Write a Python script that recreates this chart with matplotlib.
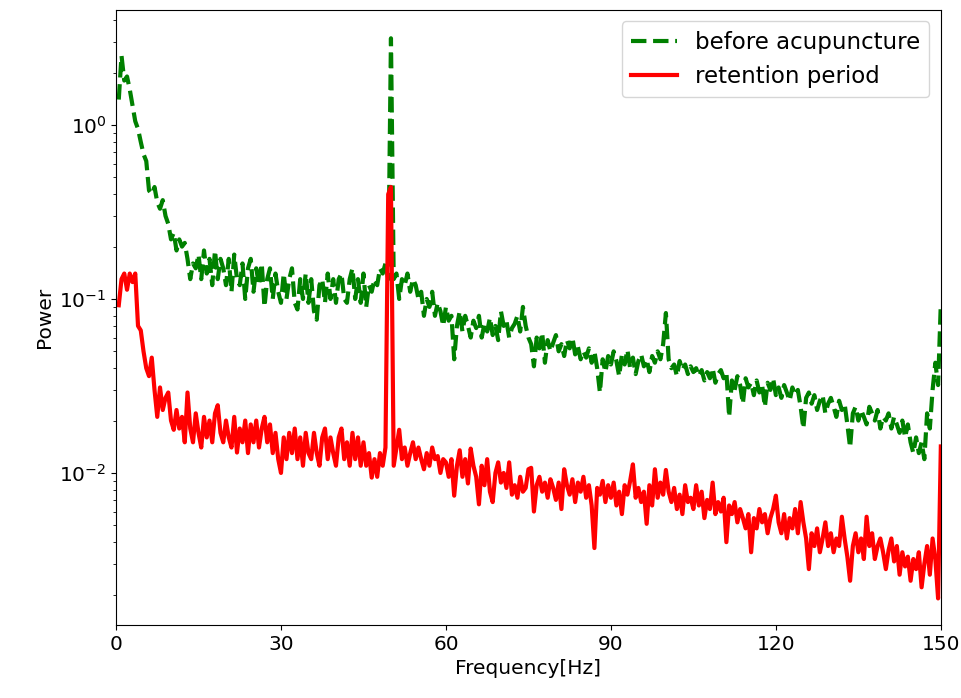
import numpy as np
import matplotlib
matplotlib.use("Agg")
import matplotlib.pyplot as plt

# frequency grid, 0.5 Hz steps
freq = np.arange(1, 301) * 0.5

# before acupuncture
power_before = [
    1.40, 2.50, 1.80, 1.90, 1.60, 1.30, 1.05, 0.95, 0.80, 0.68,
    0.62, 0.42, 0.40, 0.44, 0.36, 0.33, 0.37, 0.30, 0.27, 0.22,
    0.24, 0.19, 0.22, 0.20, 0.21, 0.17, 0.13, 0.16, 0.15, 0.18,
    0.13, 0.19, 0.14, 0.17, 0.12, 0.19, 0.13, 0.17, 0.15, 0.12,
    0.17, 0.11, 0.18, 0.13, 0.12, 0.16, 0.10, 0.15, 0.17, 0.11,
    0.15, 0.12, 0.16, 0.09, 0.13, 0.15, 0.10, 0.14, 0.11, 0.095,
    0.14, 0.10, 0.13, 0.15, 0.095, 0.087, 0.13, 0.10, 0.14, 0.095,
    0.13, 0.085, 0.076, 0.12, 0.13, 0.095, 0.14, 0.10, 0.13, 0.095,
    0.13, 0.14, 0.10, 0.095, 0.13, 0.15, 0.10, 0.13, 0.095, 0.14,
    0.09, 0.12, 0.11, 0.13, 0.12, 0.15, 0.14, 0.16, 0.13, 3.15,
    0.13, 0.14, 0.10, 0.13, 0.12, 0.14, 0.11, 0.13, 0.12, 0.10,
    0.11, 0.08, 0.10, 0.09, 0.11, 0.08, 0.095, 0.085, 0.07, 0.09,
    0.075, 0.08, 0.045, 0.07, 0.085, 0.065, 0.08, 0.07, 0.06, 0.075,
    0.068, 0.08, 0.06, 0.072, 0.065, 0.078, 0.062, 0.07, 0.058, 0.085,
    0.07, 0.075, 0.06, 0.068, 0.072, 0.08, 0.065, 0.09, 0.07, 0.06,
    0.055, 0.041, 0.06, 0.052, 0.064, 0.043, 0.058, 0.05, 0.056, 0.062,
    0.05, 0.055, 0.047, 0.058, 0.052, 0.06, 0.048, 0.053, 0.045, 0.05,
    0.046, 0.052, 0.043, 0.05, 0.04, 0.029, 0.045, 0.038, 0.047, 0.042,
    0.05, 0.044, 0.036, 0.048, 0.042, 0.051, 0.04, 0.046, 0.037, 0.044,
    0.048, 0.041, 0.045, 0.038, 0.047, 0.043, 0.05, 0.045, 0.055, 0.083,
    0.045, 0.04, 0.042, 0.036, 0.044, 0.039, 0.042, 0.037, 0.041, 0.038,
    0.04, 0.036, 0.039, 0.034, 0.038, 0.035, 0.04, 0.033, 0.037, 0.039,
    0.035, 0.038, 0.021, 0.034, 0.03, 0.036, 0.032, 0.025, 0.035, 0.031,
    0.033, 0.028, 0.034, 0.029, 0.032, 0.024, 0.033, 0.03, 0.035, 0.028,
    0.031, 0.027, 0.032, 0.029, 0.026, 0.031, 0.028, 0.03, 0.024, 0.018,
    0.027, 0.029, 0.025, 0.028, 0.023, 0.026, 0.028, 0.022, 0.025, 0.027,
    0.024, 0.021, 0.026, 0.023, 0.025, 0.019, 0.014, 0.022, 0.024, 0.02,
    0.023, 0.021, 0.019, 0.024, 0.022, 0.02, 0.023, 0.018, 0.021, 0.02,
    0.022, 0.018, 0.021, 0.019, 0.017, 0.02, 0.016, 0.019, 0.015, 0.013,
    0.016, 0.013, 0.015, 0.012, 0.022, 0.018, 0.03, 0.043, 0.032, 0.095,
]

# retention period
power_retention = [
    0.092, 0.13, 0.14, 0.113, 0.14, 0.125, 0.14, 0.07, 0.066, 0.05,
    0.04, 0.036, 0.046, 0.03, 0.021, 0.031, 0.023, 0.027, 0.029, 0.02,
    0.0177, 0.023, 0.018, 0.021, 0.015, 0.029, 0.018, 0.015, 0.022, 0.017,
    0.014, 0.021, 0.016, 0.02, 0.015, 0.022, 0.0245, 0.017, 0.015, 0.02,
    0.016, 0.014, 0.021, 0.0131, 0.018, 0.015, 0.02, 0.013, 0.019, 0.015,
    0.02, 0.014, 0.018, 0.021, 0.015, 0.019, 0.013, 0.017, 0.012, 0.0100,
    0.016, 0.012, 0.017, 0.013, 0.018, 0.012, 0.016, 0.011, 0.017, 0.013,
    0.012, 0.017, 0.013, 0.011, 0.016, 0.018, 0.012, 0.016, 0.013, 0.011,
    0.016, 0.018, 0.012, 0.015, 0.011, 0.017, 0.012, 0.016, 0.011, 0.015,
    0.011, 0.013, 0.0094, 0.012, 0.0095, 0.013, 0.011, 0.014, 0.40, 0.44,
    0.011, 0.014, 0.0177, 0.012, 0.014, 0.011, 0.013, 0.015, 0.012, 0.014,
    0.012, 0.0105, 0.013, 0.011, 0.014, 0.012, 0.0125, 0.010, 0.012, 0.0115,
    0.0095, 0.012, 0.0074, 0.011, 0.0135, 0.0095, 0.012, 0.0087, 0.0138, 0.011,
    0.0095, 0.0066, 0.011, 0.0085, 0.012, 0.0078, 0.0068, 0.010, 0.0115, 0.0088,
    0.010, 0.0082, 0.0115, 0.0075, 0.0085, 0.0072, 0.0095, 0.0078, 0.0082, 0.0105,
    0.0107, 0.006, 0.0085, 0.0095, 0.0078, 0.0088, 0.0072, 0.0092, 0.0082, 0.007,
    0.0088, 0.0062, 0.0105, 0.0085, 0.0075, 0.0092, 0.0068, 0.0088, 0.0078, 0.0095,
    0.0072, 0.0085, 0.0065, 0.0037, 0.0082, 0.0075, 0.009, 0.0068, 0.0085, 0.0072,
    0.0088, 0.0065, 0.0078, 0.0058, 0.0085, 0.0075, 0.009, 0.0112, 0.0072, 0.0082,
    0.0068, 0.0078, 0.0051, 0.0085, 0.0065, 0.0105, 0.0072, 0.0088, 0.0075, 0.0104,
    0.0078, 0.0068, 0.0082, 0.0062, 0.0075, 0.0058, 0.0085, 0.0068, 0.0072, 0.0062,
    0.0085, 0.0065, 0.0078, 0.0055, 0.007, 0.0062, 0.0088, 0.0058, 0.0068, 0.006,
    0.0072, 0.004, 0.0065, 0.0058, 0.0068, 0.0052, 0.0062, 0.0055, 0.0048, 0.0058,
    0.0035, 0.0055, 0.0048, 0.0062, 0.0052, 0.0058, 0.0045, 0.0055, 0.0062, 0.0074,
    0.0052, 0.0045, 0.0058, 0.0042, 0.0055, 0.0048, 0.0062, 0.0045, 0.0068, 0.0052,
    0.0042, 0.0028, 0.0045, 0.0038, 0.0048, 0.0035, 0.0042, 0.0052, 0.0038, 0.0045,
    0.0035, 0.0042, 0.0038, 0.0056, 0.0042, 0.0033, 0.0024, 0.0038, 0.0045, 0.0035,
    0.0042, 0.0032, 0.0056, 0.0038, 0.0045, 0.0032, 0.0038, 0.0042, 0.0035, 0.0028,
    0.0036, 0.0042, 0.0031, 0.0038, 0.0026, 0.0035, 0.0029, 0.0033, 0.0024, 0.0032,
    0.0028, 0.0035, 0.0022, 0.003, 0.0038, 0.0026, 0.0042, 0.0032, 0.0019, 0.0142,
]

xticks = [0, 30, 60, 90, 120, 150]

fig = plt.figure(figsize=(9.62, 6.98), dpi=100)
ax = fig.add_axes([0.1206, 0.1046, 0.8574, 0.8811])

ax.plot(freq, power_before, '--', color='green', lw=3, label='before acupuncture')
ax.plot(freq, power_retention, '-', color='red', lw=3, label='retention period')

ax.set_yscale('log')
ax.set_xlim(0, 150)
ax.set_ylim(10 ** -2.874, 10 ** 0.661)
ax.set_xticks(xticks)
ax.tick_params(labelsize=14.5)
ax.set_xlabel('Frequency[Hz]', fontsize=14.5)
ax.set_ylabel('Power', fontsize=14.5)
ax.legend(loc='upper right', fontsize=16.5)

fig.savefig('out.png', dpi=100)
